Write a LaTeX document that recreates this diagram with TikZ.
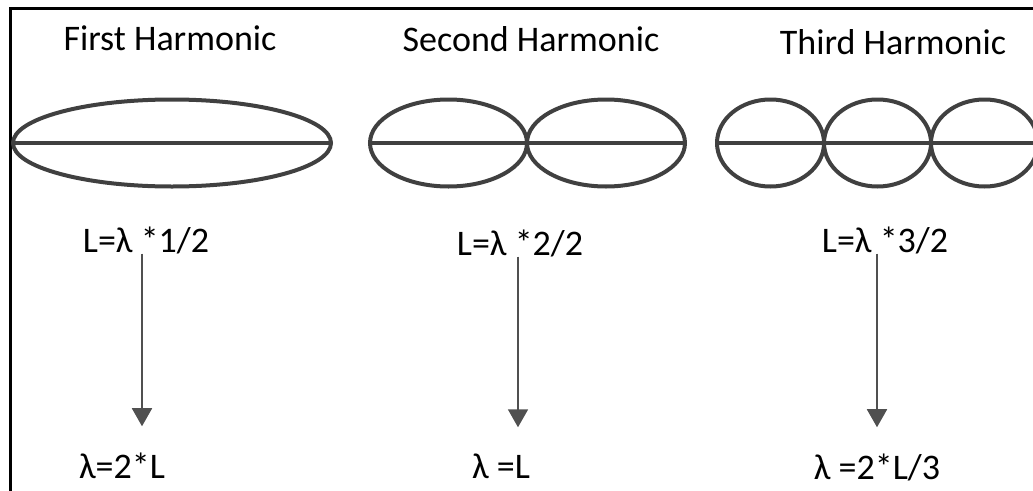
\documentclass[tikz,border=0pt]{standalone}
\usepackage{fontspec}
\setmainfont{Carlito}
\usepackage{tikz}
\usetikzlibrary{arrows.meta}
\usetikzlibrary{positioning}
\definecolor{wavegray}{RGB}{64, 64, 64}
\definecolor{arrowgray}{RGB}{80, 80, 80}
\newlength{\wavewidth}
\setlength{\wavewidth}{4pt}
\def\ry{43.5}

\begin{document}
\begin{tikzpicture}[x=1pt, y=-1pt]
\tikzset{
	label/.style={inner sep=0pt, anchor=base, font=\fontsize{36}{42}\selectfont},
	wave/.style={draw=wavegray, line width=\wavewidth},
	step arrow/.style={draw=arrowgray, line width=1.8pt, -{Triangle[width=20pt, length=18pt]}, shorten >=26pt}
}
\useasboundingbox (0,0) rectangle (1033,490);
\clip (0,0) rectangle (1033,490);
\draw[line width=3pt] (10,8) rectangle (1045,505);

\node[label](title1) at (170,50){First Harmonic};
\node[label](title2) at (531,51){Second Harmonic};
\node[label](title3) at (893,54){Third Harmonic};

% standing waves
\draw[wave] (172,143) ellipse (159 and \ry);
\draw[wave] (13,143) -- (331,143);

\draw[wave] (448.5,143) ellipse (78.5 and \ry);
\draw[wave] (606,143) ellipse (79 and \ry);
\draw[wave] (370,143) -- (685,143);

\draw[wave] (770.5,143) ellipse (53.5 and \ry);
\draw[wave] (877.5,143) ellipse (53.5 and \ry);
\draw[wave] (984.5,143) ellipse (53.5 and \ry);
\draw[wave] (717,143) -- (1040,143);

% formulas
\node[label](len1) at (146,252){L=λ *1/2};
\node[label](len2) at (520,255){L=λ *2/2};
\node[label](len3) at (885,252){L=λ *3/2};

\node[label](lam1) at (122,478){λ=2*L};
\node[label](lam2) at (501,478){λ =L};
\node[label](lam3) at (877,479){λ =2*L/3};

\draw[step arrow] ([xshift=-4pt]len1.south) -- ([xshift=20pt]lam1.north);
\draw[step arrow] ([xshift=-2pt]len2.south) -- ([xshift=17pt]lam2.north);
\draw[step arrow] ([xshift=-8pt]len3.south) -- (lam3.north);

\end{tikzpicture}
\end{document}
